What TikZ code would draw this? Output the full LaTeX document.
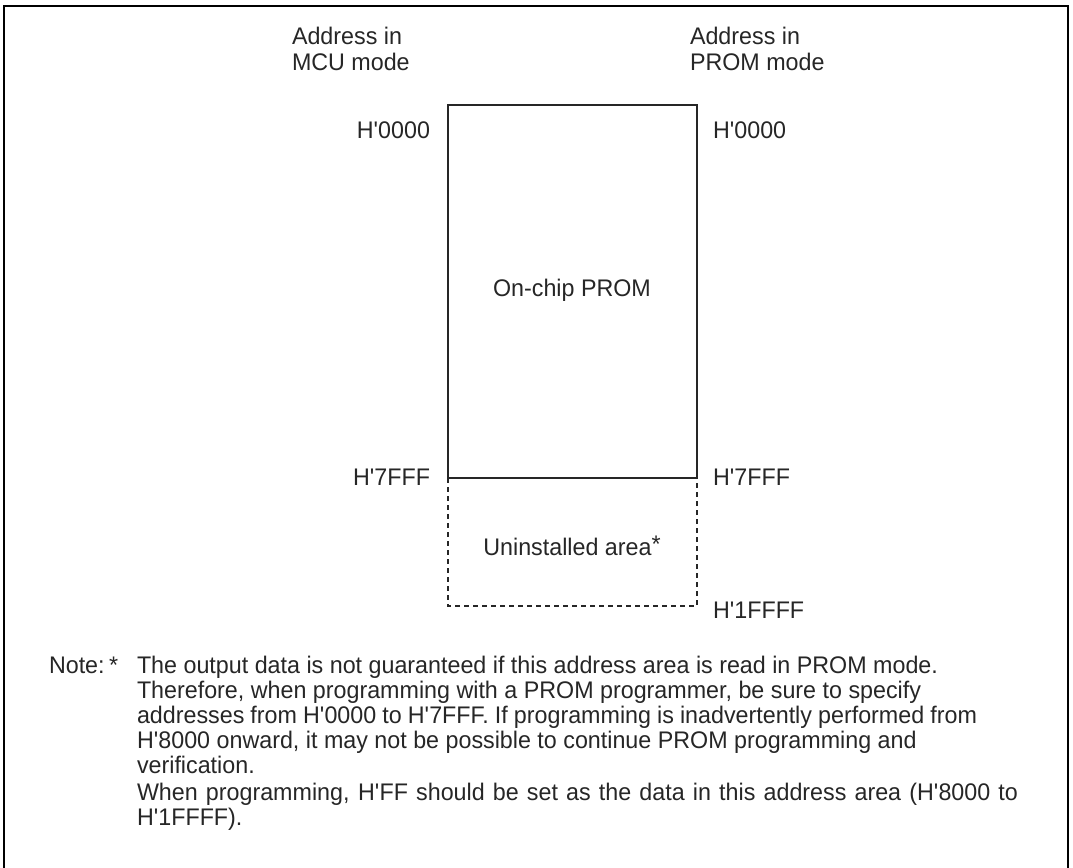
\documentclass[tikz,border=0pt]{standalone}
\usepackage{fontspec}
\setmainfont{Liberation Sans}[FakeStretch=0.97]
\newcommand{\apos}{\textquotesingle}
\tikzset{
  lbl/.style={inner sep=0pt, outer sep=0pt, text=black!85, font=\fontsize{24}{26}\selectfont},
  solidedge/.style={draw=black!85, line width=2pt},
  dashededge/.style={draw=black!85, line width=2pt, dash pattern=on 5pt off 4pt},
  frameedge/.style={draw=black, line width=2.5pt}
}
\begin{document}
\begin{tikzpicture}[x=1pt,y=-1pt]
\useasboundingbox (0,0) rectangle (1073,867);
% outer frame (open at the bottom)
\coordinate (fbl) at (4,870);
\coordinate (ftl) at (4,6);
\coordinate (ftr) at (1068,6);
\coordinate (fbr) at (1068,870);
\draw[frameedge] (fbl) -- (ftl) -- (ftr) -- (fbr);
% memory map box
\coordinate (tl) at (448,105);
\coordinate (tr) at (697,105);
\coordinate (ml) at (448,478);
\coordinate (mr) at (697,478);
\coordinate (bl) at (448,606);
\coordinate (br) at (697,606);
\draw[solidedge] (ml) -- (tl) -- (tr) -- (mr) -- cycle;
\draw[dashededge] (ml) -- (bl) -- (br) -- (mr);
% region labels
\node[lbl] (prom) at (572,290) {On-chip PROM};
\node[lbl, anchor=base] (unin) at (572,555) {Uninstalled area\raisebox{3pt}{*}};
% column headings
\node[lbl, anchor=base west] (hmcu) at (292,45) {\vtop{\baselineskip=26pt\lineskiplimit=-10pt\hbox{Address in}\hbox{MCU mode}}};
\node[lbl, anchor=base west] (hprom) at (690,45) {\vtop{\baselineskip=26pt\lineskiplimit=-10pt\hbox{Address in}\hbox{PROM mode}}};
% addresses
\node[lbl, anchor=base east] (l0000) at (430,138) {H\apos0000};
\node[lbl, anchor=base west] (r0000) at (713,138) {H\apos0000};
\node[lbl, anchor=base east] (l7fff) at (430,485) {H\apos7FFF};
\node[lbl, anchor=base west] (r7fff) at (713,485) {H\apos7FFF};
\node[lbl, anchor=base west] (r1ffff) at (713,618) {H\apos1FFFF};
% note
\node[lbl, anchor=base west] (note) at (49,673) {Note:};
\node[lbl, anchor=base west] (star) at (109,673) {*};
\node[lbl, anchor=base west] (body) at (137,673) {\vtop{\baselineskip=25pt\lineskiplimit=-10pt
\hbox{The output data is not guaranteed if this address area is read in PROM mode.}
\hbox{Therefore, when programming with a PROM programmer, be sure to specify}
\hbox to 840pt{addresses from H\apos0000 to H\apos7FFF. If programming is inadvertently performed from}
\hbox{H\apos8000 onward, it may not be possible to continue PROM programming and}
\hbox{verification.}
\vskip 2pt
\hbox to 881pt{When programming, H\apos FF should be set as the data in this address area (H\apos8000 to}
\hbox{H\apos1FFFF).}}};
\end{tikzpicture}
\end{document}
